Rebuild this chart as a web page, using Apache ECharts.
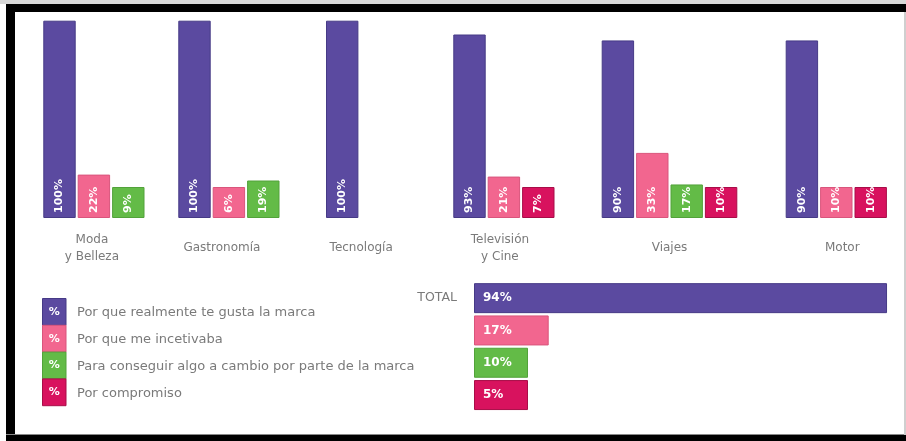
<!DOCTYPE html>
<html>
<head>
<meta charset="utf-8">
<script src="https://cdn.jsdelivr.net/npm/echarts@6/dist/echarts.min.js"></script>
<style>
  html, body { margin: 0; padding: 0; background: #fff; }
  #chart { width: 906px; height: 441px; }
</style>
</head>
<body>
<div id="chart"></div>
<script>
// Sectors (one bar group each)
const categories = ['Moda\ny Belleza', 'Gastronomía', 'Tecnología', 'Televisión\ny Cine', 'Viajes', 'Motor'];
// Motives (legend rows)
const motives = [
  'Por que realmente te gusta la marca',
  'Por que me incetivaba',
  'Para conseguir algo a cambio por parte de la marca',
  'Por compromiso'
];
// Percentages per sector, one array per motive (null = not reported)
const realmente  = [100, 100, 100, 93, 90, 90];
const incentivo  = [22, 6, null, 21, 33, 10];
const aCambio    = [9, 19, null, null, 17, null];
const compromiso = [null, null, null, 7, 10, 10];
// Overall percentages per motive
const totals = [94, 17, 10, 5];

const FONT = 'DejaVu Sans';
const TEXT_GREY = '#7a7a7a';
const colors  = ['#5b4aa0', '#f2668f', '#63bb47', '#d8125e'];
const borders = ['#463a86', '#d9557c', '#52a23a', '#a80d48'];

// Layout of the sector groups
const groupLeft  = [42.3, 177.3, 325, 452.3, 600.7, 784.7];
const labelShift = [-2, -7, 19, -4, 0, 6];
const STEP = 34.4, BAR_W = 32.4, TOP = 20.7, PLOT_H = 197.3;

const bySector = [realmente, incentivo, aCambio, compromiso];

const grids = [], xAxes = [], yAxes = [], series = [];

categories.forEach((name, i) => {
  const items = [], names = [];
  bySector.forEach((arr, m) => {
    if (arr[i] != null) {
      names.push(motives[m]);
      items.push({ value: arr[i], itemStyle: { color: colors[m], borderColor: borders[m] } });
    }
  });
  grids.push({ left: groupLeft[i], top: TOP, width: items.length * STEP, height: PLOT_H, outerBoundsMode: 'none' });
  xAxes.push({
    type: 'category', gridIndex: i, data: names,
    axisLine: { show: false }, axisTick: { show: false }, axisLabel: { show: false },
    name: name, nameLocation: 'middle', nameGap: 30,
    nameTextStyle: {
      fontFamily: FONT, fontSize: 12, color: TEXT_GREY, lineHeight: 17,
      verticalAlign: 'middle', align: 'center',
      padding: labelShift[i] >= 0 ? [0, 0, 0, labelShift[i] * 2] : [0, -labelShift[i] * 2, 0, 0]
    }
  });
  yAxes.push({ type: 'value', gridIndex: i, min: 0, max: 100, show: false });
  series.push({
    type: 'bar', xAxisIndex: i, yAxisIndex: i, data: items,
    barWidth: BAR_W, barMinHeight: 31,
    itemStyle: { borderWidth: 1 },
    label: {
      show: true, position: 'insideBottom', rotate: 90, align: 'left', verticalAlign: 'middle',
      distance: 5, formatter: '{c}%', color: '#fff', fontFamily: FONT, fontSize: 11, fontWeight: 'bold'
    },
    silent: true
  });
});

// Overall ("TOTAL") horizontal bars
const tIdx = categories.length;
grids.push({ left: 474, top: 282, width: 439.4, height: 129.2, outerBoundsMode: 'none' });
xAxes.push({ type: 'value', gridIndex: tIdx, min: 0, max: 100, show: false });
yAxes.push({
  type: 'category', gridIndex: tIdx, data: motives, inverse: true,
  axisLine: { show: false }, axisTick: { show: false },
  axisLabel: {
    margin: 17, fontFamily: FONT, fontSize: 12.5, color: TEXT_GREY,
    formatter: (v, idx) => idx === 0 ? 'TOTAL' : ''
  }
});
series.push({
  type: 'bar', xAxisIndex: tIdx, yAxisIndex: tIdx,
  data: totals.map((v, m) => ({ value: v, itemStyle: { color: colors[m], borderColor: borders[m] } })),
  barWidth: 30, barMinHeight: 54,
  itemStyle: { borderWidth: 1 },
  label: {
    show: true, position: 'insideLeft', distance: 9, formatter: '{c}%',
    color: '#fff', fontFamily: FONT, fontSize: 12, fontWeight: 'bold'
  },
  silent: true
});

// Legend: coloured "%" squares with motive text
const LEG_X = 42.5, LEG_Y = 298.5, LEG_W = 23.5, LEG_H = 26.8;
const legendEls = [];
motives.forEach((txt, m) => {
  const y = LEG_Y + m * LEG_H;
  legendEls.push({
    type: 'rect', shape: { x: LEG_X, y: y, width: LEG_W, height: LEG_H },
    style: { fill: colors[m], stroke: borders[m], lineWidth: 1 }
  });
  legendEls.push({
    type: 'text', x: LEG_X + LEG_W / 2, y: y + LEG_H / 2,
    style: { text: '%', fill: '#fff', font: 'bold 11px ' + FONT, align: 'center', verticalAlign: 'middle' }
  });
  legendEls.push({
    type: 'text', x: 77, y: y + LEG_H / 2 + 1,
    style: { text: txt, fill: TEXT_GREY, font: '13px ' + FONT, align: 'left', verticalAlign: 'middle' }
  });
});

// Black frame around the panel
const frameEls = [
  { type: 'rect', shape: { x: 0, y: 0, width: 906, height: 4 }, style: { fill: '#d8d8d8' } },
  { type: 'rect', shape: { x: 6, y: 4, width: 900, height: 8 }, style: { fill: '#000' } },
  { type: 'rect', shape: { x: 6, y: 4, width: 9, height: 437 }, style: { fill: '#000' } },
  { type: 'rect', shape: { x: 6, y: 435, width: 900, height: 6 }, style: { fill: '#000' } },
  { type: 'rect', shape: { x: 6, y: 434, width: 900, height: 1 }, style: { fill: '#888' } },
  { type: 'rect', shape: { x: 904, y: 12, width: 2, height: 423 }, style: { fill: '#cfcfcf' } }
];

const chart = echarts.init(document.getElementById('chart'), null, { renderer: 'canvas' });
chart.setOption({
  backgroundColor: '#fff',
  animation: false,
  grid: grids,
  xAxis: xAxes,
  yAxis: yAxes,
  series: series,
  graphic: { elements: frameEls.concat(legendEls) }
});
</script>
</body>
</html>
